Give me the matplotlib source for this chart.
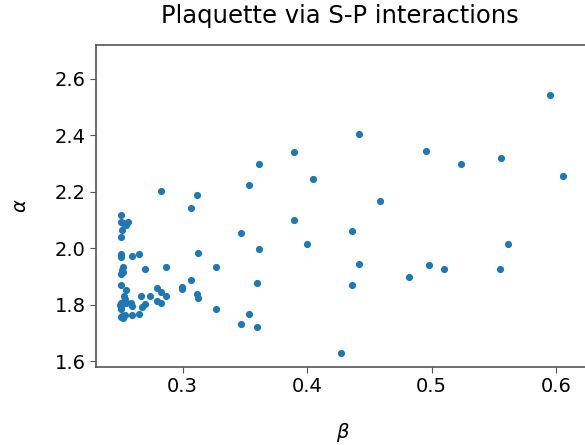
import numpy as np
import matplotlib
matplotlib.use("Agg")
import matplotlib.pyplot as plt

# beta / alpha values
beta = [0.2826, 0.3118, 0.3068, 0.3535, 0.3610, 0.3898, 0.4046, 0.4417,
        0.4952, 0.4586, 0.5237, 0.5560, 0.5955, 0.6060, 0.3898, 0.3473,
        0.4360, 0.4000, 0.3121, 0.3610, 0.4417, 0.3269, 0.3068, 0.3600,
        0.4360, 0.3116, 0.3121, 0.3269, 0.3535, 0.3473, 0.3600, 0.4269,
        0.5616, 0.4976, 0.5102, 0.5552, 0.4818,
        0.2503, 0.2503, 0.2519, 0.2565, 0.2546, 0.2514, 0.2506, 0.2503,
        0.2503, 0.2597, 0.2653, 0.2524, 0.2511, 0.2518, 0.2506, 0.2694,
        0.2863, 0.2503, 0.2546, 0.2798, 0.2826, 0.2863, 0.2992, 0.2995,
        0.2667, 0.2740, 0.2526, 0.2538, 0.2519, 0.2546, 0.2500, 0.2503,
        0.2506, 0.2586, 0.2592, 0.2699, 0.2671, 0.2798, 0.2828, 0.2511,
        0.2538, 0.2524, 0.2503, 0.2597, 0.2653, 0.2503]
alpha = [2.203, 2.188, 2.141, 2.225, 2.298, 2.340, 2.244, 2.404,
         2.346, 2.167, 2.298, 2.319, 2.543, 2.256, 2.099, 2.055,
         2.062, 2.015, 1.984, 1.998, 1.944, 1.934, 1.887, 1.876,
         1.871, 1.836, 1.824, 1.785, 1.768, 1.730, 1.720, 1.628,
         2.014, 1.941, 1.925, 1.927, 1.898,
         2.117, 2.092, 2.089, 2.094, 2.081, 2.063, 2.041, 1.978,
         1.968, 1.973, 1.980, 1.935, 1.924, 1.916, 1.907, 1.925,
         1.932, 1.870, 1.852, 1.858, 1.844, 1.832, 1.863, 1.854,
         1.830, 1.829, 1.829, 1.820, 1.811, 1.806, 1.799, 1.790,
         1.783, 1.805, 1.795, 1.801, 1.793, 1.813, 1.807, 1.760,
         1.765, 1.752, 1.756, 1.763, 1.766, 1.805]

fig = plt.figure(figsize=(5.85, 4.45), dpi=100)
ax = fig.add_axes([96 / 585, 1 - 367 / 445, 1 - 96 / 585 + 0.01, 322 / 445])

ax.scatter(beta, alpha, s=17, color='#1f77b4', zorder=3)

ax.set_xlim(0.2304, 0.628)
ax.set_ylim(1.579, 2.72)
ax.set_xticks([0.3, 0.4, 0.5, 0.6])
ax.set_yticks([1.6, 1.8, 2.0, 2.2, 2.4, 2.6])
ax.tick_params(labelsize=14, color='#555555', length=4)
for sp in ax.spines.values():
    sp.set_color('#555555')
    sp.set_linewidth(1.2)

ax.set_xlabel(r'$\beta$', fontsize=14, labelpad=18)
ax.set_ylabel(r'$\alpha$', fontsize=14, labelpad=18)
fig.text(340 / 585, 1 - 16 / 445, 'Plaquette via S-P interactions',
         fontsize=17.5, ha='center', va='center')

fig.savefig('out.png', dpi=100)
